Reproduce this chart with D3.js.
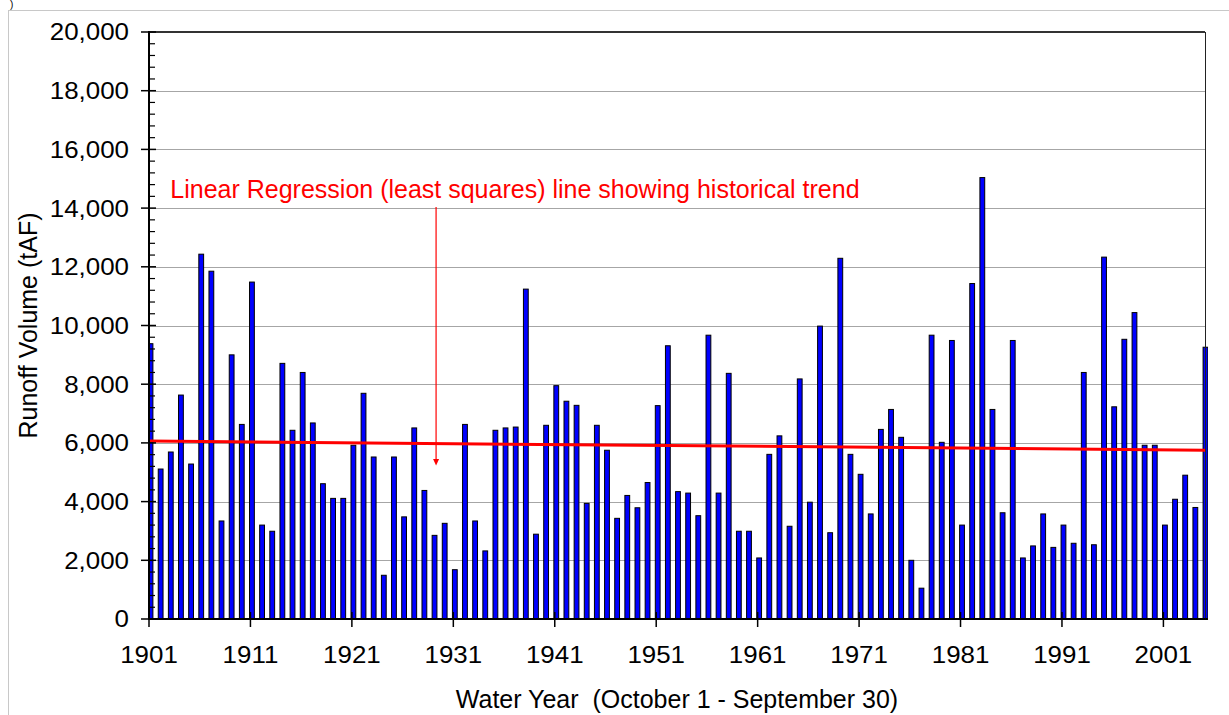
<!DOCTYPE html>
<html>
<head>
<meta charset="utf-8">
<script src="https://cdn.jsdelivr.net/npm/d3@7"></script>
<style>
  body { margin: 0; background: #ffffff; }
  text { font-family: Arial, "Liberation Sans", sans-serif; }
</style>
</head>
<body>
<div id="chart"></div>
<script>
// annual runoff volume (tAF), water years 1901 - 2005
const firstYear = 1901;
const runoff = [
  9380, 5110, 5690, 7630, 5280, 12430, 11850, 3340, 9000, 6630,
  11480, 3200, 2990, 8710, 6430, 8400, 6680, 4610, 4110, 4110,
  5920, 7690, 5520, 1490, 5520, 3480, 6510, 4380, 2850, 3260,
  1680, 6630, 3340, 2320, 6430, 6510, 6540, 11240, 2890, 6600,
  7950, 7420, 7280, 3940, 6600, 5750, 3430, 4210, 3790, 4650,
  7270, 9310, 4340, 4290, 3520, 9670, 4290, 8370, 2990, 2990,
  2080, 5610, 6240, 3160, 8180, 3980, 9980, 2940, 12290, 5610,
  4930, 3580, 6460, 7140, 6190, 2000, 1050, 9670, 6020, 9490,
  3200, 11430, 15040, 7140, 3620, 9490, 2080, 2490, 3580, 2440,
  3200, 2580, 8400, 2530, 12330, 7230, 9530, 10440, 5920, 5920,
  3200, 4080, 4900, 3800, 9260
];
const years = runoff.map((_, i) => firstYear + i);

const xTickYears = [1901, 1911, 1921, 1931, 1941, 1951, 1961, 1971, 1981, 1991, 2001];
const yTicks = [0, 2000, 4000, 6000, 8000, 10000, 12000, 14000, 16000, 18000, 20000];

const annotationText = "Linear Regression (least squares) line showing historical trend";

const width = 1229;
const height = 715;
const margin = { top: 32, right: 24, bottom: 96, left: 149 };
const plotRight = width - margin.right;
const plotBottom = height - margin.bottom;

const x = d3.scaleLinear().domain([1901, 2005.1]).range([margin.left, plotRight]);
const y = d3.scaleLinear().domain([0, 20000]).range([plotBottom, margin.top]);

const svg = d3
  .select("#chart")
  .append("svg")
  .attr("width", width)
  .attr("height", height);

// outer chart frame
svg
  .append("rect")
  .attr("x", 8.5)
  .attr("y", 10.5)
  .attr("width", width)
  .attr("height", height)
  .attr("fill", "none")
  .attr("stroke", "#c8c8c8");

// leftover bracket above the frame
svg
  .append("text")
  .attr("x", 10)
  .attr("y", 8)
  .style("font-size", "10px")
  .text(")");

// gridlines
svg
  .append("g")
  .selectAll("line")
  .data(yTicks.filter((d) => d > 0 && d < 20000))
  .join("line")
  .attr("x1", margin.left)
  .attr("x2", plotRight)
  .attr("y1", (d) => Math.round(y(d)) + 0.5)
  .attr("y2", (d) => Math.round(y(d)) + 0.5)
  .attr("stroke", "#a6a6a6")
  .attr("stroke-width", 1);

// bars
svg
  .append("clipPath")
  .attr("id", "plot-clip")
  .append("rect")
  .attr("x", margin.left)
  .attr("y", 0)
  .attr("width", plotRight + 3 - margin.left)
  .attr("height", plotBottom);

const barWidth = 4.8;
svg
  .append("g")
  .attr("clip-path", "url(#plot-clip)")
  .selectAll("rect")
  .data(runoff)
  .join("rect")
  .attr("x", (d, i) => x(years[i]) + 1.5 - barWidth / 2)
  .attr("y", (d) => y(d))
  .attr("width", barWidth)
  .attr("height", (d) => y(0) - y(d))
  .attr("fill", "#0000ff")
  .attr("stroke", "#000000")
  .attr("stroke-width", 1);

// least squares trend
const meanX = d3.mean(years);
const meanY = d3.mean(runoff);
const slope =
  d3.sum(years, (yr, i) => (yr - meanX) * (runoff[i] - meanY)) /
  d3.sum(years, (yr) => (yr - meanX) * (yr - meanX));
const intercept = meanY - slope * meanX;
const trend = x.domain().map((yr) => [yr, intercept + slope * yr]);

svg
  .append("path")
  .datum(trend)
  .attr("d", d3.line().x((d) => x(d[0])).y((d) => y(d[1])))
  .attr("fill", "none")
  .attr("stroke", "#ff0000")
  .attr("stroke-width", 3);

// plot frame: top and right
svg
  .append("line")
  .attr("x1", margin.left)
  .attr("x2", plotRight)
  .attr("y1", margin.top)
  .attr("y2", margin.top)
  .attr("stroke", "#333333")
  .attr("stroke-width", 2);

svg
  .append("line")
  .attr("x1", plotRight + 0.5)
  .attr("x2", plotRight + 0.5)
  .attr("y1", margin.top)
  .attr("y2", plotBottom)
  .attr("stroke", "#222222")
  .attr("stroke-width", 1);

// y axis
const yAxis = svg.append("g");
yAxis
  .append("line")
  .attr("x1", margin.left)
  .attr("x2", margin.left)
  .attr("y1", margin.top - 1)
  .attr("y2", plotBottom + 1)
  .attr("stroke", "#000")
  .attr("stroke-width", 2);

yAxis
  .selectAll(".minor")
  .data(d3.range(0, 20001, 400).filter((d) => d % 2000 !== 0))
  .join("line")
  .attr("x1", margin.left)
  .attr("x2", margin.left + 6)
  .attr("y1", (d) => y(d))
  .attr("y2", (d) => y(d))
  .attr("stroke", "#000")
  .attr("stroke-width", 1.2);

yAxis
  .selectAll(".major")
  .data(yTicks)
  .join("line")
  .attr("x1", margin.left - 8)
  .attr("x2", margin.left + 7)
  .attr("y1", (d) => y(d))
  .attr("y2", (d) => y(d))
  .attr("stroke", "#000")
  .attr("stroke-width", 1.5);

yAxis
  .selectAll("text")
  .data(yTicks)
  .join("text")
  .attr("transform", (d) => `translate(129, ${y(d)}) scale(1.08, 1)`)
  .attr("dy", "0.35em")
  .attr("text-anchor", "end")
  .style("font-size", "24px")
  .style("fill", "#000")
  .text((d) => d3.format(",")(d));

// x axis
const xAxis = svg.append("g");
xAxis
  .append("line")
  .attr("x1", margin.left)
  .attr("x2", plotRight + 3)
  .attr("y1", plotBottom)
  .attr("y2", plotBottom)
  .attr("stroke", "#000")
  .attr("stroke-width", 2);

xAxis
  .selectAll("line.tick")
  .data(xTickYears)
  .join("line")
  .attr("class", "tick")
  .attr("x1", (d) => x(d))
  .attr("x2", (d) => x(d))
  .attr("y1", plotBottom - 7)
  .attr("y2", plotBottom + 8)
  .attr("stroke", "#000")
  .attr("stroke-width", 1.5);

xAxis
  .selectAll("text")
  .data(xTickYears)
  .join("text")
  .attr("transform", (d) => `translate(${x(d)}, 663) scale(1.08, 1)`)
  .attr("text-anchor", "middle")
  .style("font-size", "24px")
  .style("fill", "#000")
  .text((d) => d);

// axis titles
svg
  .append("text")
  .attr("transform", `translate(37, ${(margin.top + plotBottom) / 2}) rotate(-90)`)
  .attr("text-anchor", "middle")
  .style("font-size", "25px")
  .style("fill", "#000")
  .text("Runoff Volume (tAF)");

svg
  .append("text")
  .attr("x", (margin.left + plotRight) / 2)
  .attr("y", 708)
  .attr("text-anchor", "middle")
  .style("font-size", "25px")
  .style("fill", "#000")
  .style("white-space", "pre")
  .text("Water Year  (October 1 - September 30)");

// annotation and arrow
svg
  .append("text")
  .attr("x", x(1903.1))
  .attr("y", y(14350))
  .style("font-size", "25px")
  .style("fill", "#ff0000")
  .text(annotationText);

const arrowX = x(1929.3);
svg
  .append("line")
  .attr("x1", arrowX)
  .attr("x2", arrowX)
  .attr("y1", y(14040))
  .attr("y2", y(5450))
  .attr("stroke", "#ff0000")
  .attr("stroke-width", 1.2);

svg
  .append("path")
  .attr("d", `M${arrowX - 3},${y(5450)} L${arrowX + 3},${y(5450)} L${arrowX},${y(5230)} Z`)
  .attr("fill", "#ff0000");
</script>
</body>
</html>
